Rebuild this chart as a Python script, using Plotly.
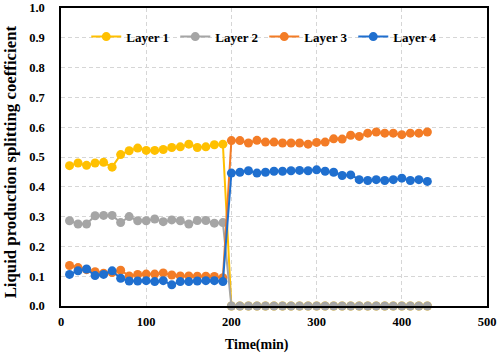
import plotly.graph_objects as go

time_min = [10, 20, 30, 40, 50, 60, 70, 80, 90, 100, 110, 120, 130, 140, 150, 160, 170, 180, 190,
            200, 210, 220, 230, 240, 250, 260, 270, 280, 290, 300, 310, 320, 330, 340, 350, 360,
            370, 380, 390, 400, 410, 420, 430]

layer1 = [0.471, 0.480, 0.472, 0.480, 0.482, 0.466, 0.508, 0.521, 0.530, 0.522, 0.522, 0.525,
          0.532, 0.534, 0.543, 0.532, 0.534, 0.541, 0.543,
          0, 0, 0, 0, 0, 0, 0, 0, 0, 0, 0, 0, 0, 0, 0, 0, 0, 0, 0, 0, 0, 0, 0, 0]

layer2 = [0.286, 0.275, 0.275, 0.303, 0.304, 0.304, 0.280, 0.300, 0.286, 0.286, 0.292, 0.283,
          0.289, 0.286, 0.275, 0.287, 0.287, 0.278, 0.280,
          0, 0, 0, 0, 0, 0, 0, 0, 0, 0, 0, 0, 0, 0, 0, 0, 0, 0, 0, 0, 0, 0, 0, 0]

layer3 = [0.136, 0.129, 0.122, 0.115, 0.110, 0.112, 0.120, 0.101, 0.106, 0.107, 0.107, 0.111,
          0.104, 0.101, 0.101, 0.100, 0.100, 0.099, 0.095,
          0.555, 0.555, 0.547, 0.556, 0.550, 0.550, 0.547, 0.547, 0.547, 0.543, 0.549, 0.550,
          0.561, 0.560, 0.573, 0.569, 0.580, 0.584, 0.580, 0.580, 0.575, 0.580, 0.580, 0.584]

layer4 = [0.106, 0.118, 0.124, 0.102, 0.106, 0.118, 0.093, 0.084, 0.084, 0.085, 0.082, 0.085,
          0.071, 0.082, 0.082, 0.084, 0.085, 0.085, 0.082,
          0.446, 0.449, 0.454, 0.446, 0.449, 0.452, 0.452, 0.454, 0.455, 0.454, 0.457, 0.452,
          0.449, 0.438, 0.440, 0.424, 0.421, 0.424, 0.421, 0.424, 0.429, 0.421, 0.424, 0.418]

names = ["Layer 1", "Layer 2", "Layer 3", "Layer 4"]
colors = ["#FFC000", "#A5A5A5", "#F37C26", "#1F6FCF"]
series = [layer1, layer2, layer3, layer4]

x_title = "Time(min)"
y_title = "Liquid production splitting coefficient"

font_family = "Liberation Serif"

fig = go.Figure()
for name, color, vals in zip(names, colors, series):
    fig.add_trace(go.Scatter(
        x=time_min, y=vals, name=name, mode="lines+markers",
        line=dict(color=color, width=2),
        marker=dict(color=color, size=9, symbol="circle"),
        cliponaxis=False,
    ))

axis_common = dict(
    showline=True, linecolor="black", linewidth=1.5, mirror=True,
    showgrid=True, gridcolor="#D6D6D6", griddash="4px,3px", gridwidth=1,
    zeroline=False, ticks="", automargin=False,
    tickfont=dict(family=font_family, size=12.5, color="black", weight="bold"),
)

fig.update_xaxes(range=[0, 500], dtick=100, tick0=0, ticklabelstandoff=3, **axis_common)
fig.update_yaxes(range=[0, 1.0], dtick=0.1, tick0=0, tickformat=".1f", ticklabelstandoff=12,
                 **axis_common)

fig.add_annotation(text="<b>" + x_title + "</b>", xref="paper", yref="paper",
                   x=0.4605, y=0, xanchor="center", yanchor="middle", yshift=-39,
                   showarrow=False, font=dict(family=font_family, size=14, color="black"))
fig.add_annotation(text="<b>" + y_title + "</b>", xref="paper", yref="paper",
                   x=0, y=0.482, xanchor="center", yanchor="middle", xshift=-51,
                   textangle=-90, showarrow=False,
                   font=dict(family=font_family, size=16.8, color="black"))

fig.update_layout(
    width=498, height=357,
    margin=dict(l=61, r=11, t=8, b=51, autoexpand=False),
    paper_bgcolor="white", plot_bgcolor="white",
    legend=dict(orientation="h", x=0.0593, y=0.904, xanchor="left", yanchor="middle",
                bgcolor="rgba(0,0,0,0)",
                font=dict(family=font_family, size=13, color="black", weight="bold"),
                entrywidth=44, entrywidthmode="pixels"),
    showlegend=True,
)

fig.write_html("out.html", config={"displayModeBar": False},
               post_script="document.body.style.margin='0';")
